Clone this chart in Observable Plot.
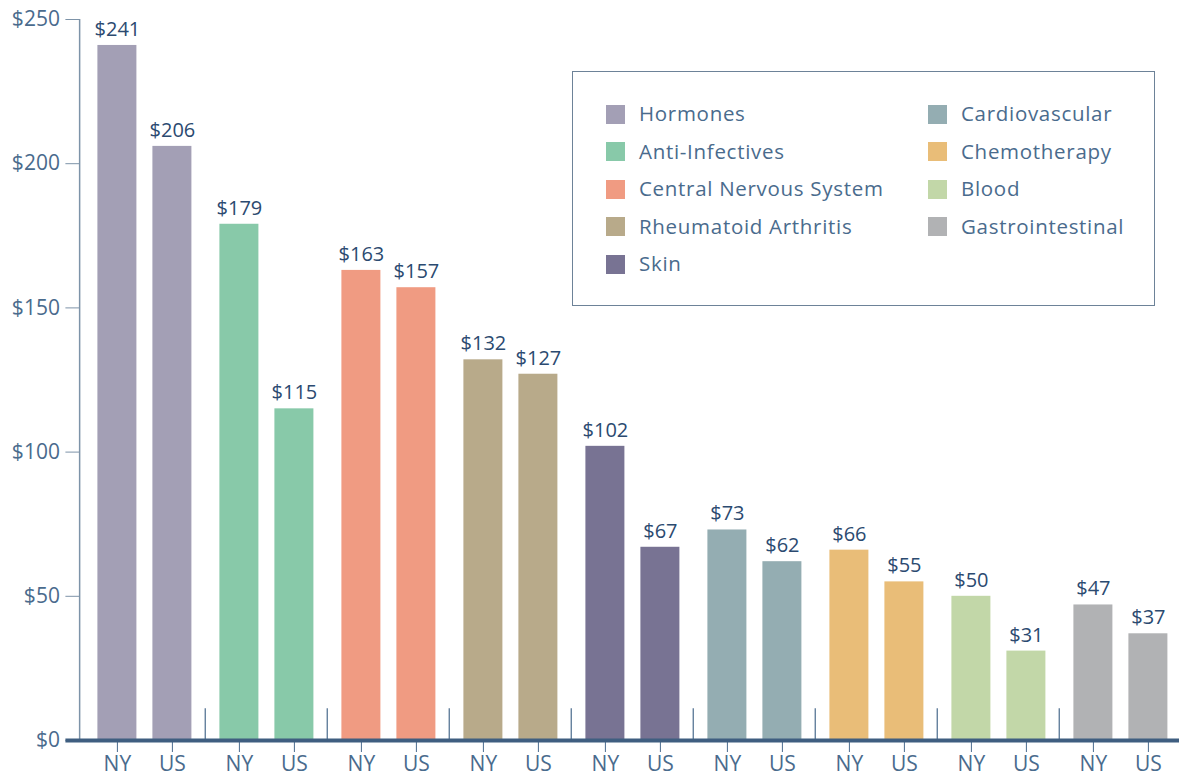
<!DOCTYPE html>
<html>
<head>
<meta charset="utf-8">
<script src="https://cdn.jsdelivr.net/npm/d3@7"></script>
<script src="https://cdn.jsdelivr.net/npm/@observablehq/plot@0.6"></script>
<style>
  html, body { margin: 0; padding: 0; background: #fff; }
  #wrap { position: relative; width: 1183px; height: 778px; font-family: "Open Sans", sans-serif; }
  #legend { position: absolute; left: 572px; top: 71px;
    border: 1.5px solid #6d8298;
    display: grid; grid-auto-flow: column; grid-template-rows: repeat(5, 37.5px);
    grid-template-columns: 322px auto; padding: 22.5px 0 0 33px; box-sizing: border-box; width: 583px; height: 235px; }
  .item { display: flex; align-items: center; font-size: 20.5px; color: #4a6b8d; letter-spacing: 0.7px; }
  .sw { width: 19px; height: 19px; margin-right: 14px; flex: none; position: relative; top: 1px; }
</style>
</head>
<body>
<div id="wrap"><div id="chart"></div><div id="legend"></div></div>
<script>
const groups = ["Hormones", "Anti-Infectives", "Central Nervous System", "Rheumatoid Arthritis", "Skin", "Cardiovascular", "Chemotherapy", "Blood", "Gastrointestinal"];
const regions = ["NY", "US"];
const nyValues = [241, 179, 163, 132, 102, 73, 66, 50, 47];
const usValues = [206, 115, 157, 127, 67, 62, 55, 31, 37];
const colors = ["#a39fb5", "#88c9a9", "#f09b82", "#b8aa8a", "#787393", "#94adb2", "#e9bd78", "#c2d7a8", "#b1b2b4"];
const yTicks = [0, 50, 100, 150, 200, 250];

const data = groups.flatMap((g, i) => [
  {group: g, region: "NY", value: nyValues[i]},
  {group: g, region: "US", value: usValues[i]}
]);

const W = 1183, H = 778, mL = 82.6, mR = 0;
const pInner = 0.2857, pOuter = 0.2357;
const facetW = (W - mL - mR) / groups.length;
const step = facetW / (regions.length - pInner + 2 * pOuter);
const nyCenter = pOuter * step + step * (1 - pInner) / 2;
const axisColor = "#4a6b8d";
const baseStyle = {fx: d => d, y: () => 0, stroke: "#3f5e80", strokeWidth: 4};

const chart = Plot.plot({
  width: W, height: H,
  marginTop: 19, marginBottom: 38, marginLeft: mL, marginRight: mR,
  style: {fontFamily: "Open Sans, sans-serif", fontSize: "20px", color: axisColor, background: "transparent"},
  fx: {domain: groups, padding: 0, axis: null, label: null},
  x: {domain: regions, paddingInner: pInner, paddingOuter: pOuter, label: null},
  y: {domain: [0, 250], label: null},
  color: {domain: groups, range: colors},
  marks: [
    Plot.barY(data, {fx: "group", x: "region", y: "value", fill: "group"}),
    Plot.ruleX([groups[0]], {fx: d => d, x: () => regions[0], y1: 0, y2: 250, dx: -nyCenter - 4.6, stroke: "#7d93a8", strokeWidth: 1.5}),
    Plot.ruleX(groups.slice(1), {fx: d => d, x: () => regions[0], y1: 0, y2: 11, dx: -nyCenter - 1, stroke: "#4a6b8d", strokeWidth: 1.2}),
    Plot.axisY({ticks: yTicks, tickFormat: d => "$" + d, tickSize: 14, tickPadding: 6, dx: -4.6, stroke: "#7d93a8", fill: axisColor, fontSize: 21, label: null}),
    Plot.axisX({tickSize: 12, tickPadding: 4, stroke: "#4a6b8d", fill: axisColor, fontSize: 21, label: null}),
    Plot.ruleY([groups[0]], {...baseStyle, insetLeft: -18.6}),
    Plot.ruleY(groups.slice(1, -1), baseStyle),
    Plot.ruleY([groups[groups.length - 1]], {...baseStyle, insetRight: 3}),
    Plot.text(data, {fx: "group", x: "region", y: "value", text: d => "$" + d.value, dy: -16, fontSize: 20, fill: "#2b4a70"})
  ]
});
document.getElementById("chart").appendChild(chart);

const legend = document.getElementById("legend");
groups.forEach((g, i) => {
  const it = document.createElement("div");
  it.className = "item";
  const sw = document.createElement("span");
  sw.className = "sw";
  sw.style.background = colors[i];
  it.appendChild(sw);
  it.appendChild(document.createTextNode(g));
  legend.appendChild(it);
});
</script>
</body>
</html>
